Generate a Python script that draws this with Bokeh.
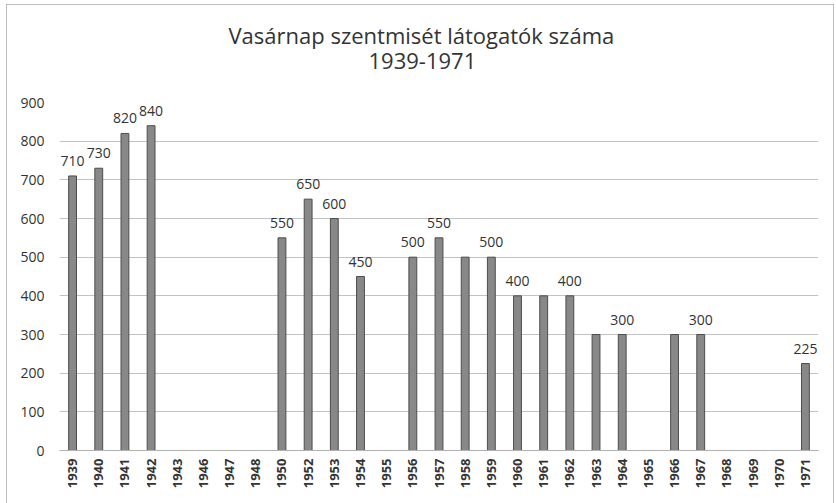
from bokeh.plotting import figure
from bokeh.models import ColumnDataSource, LabelSet, Title, FactorRange, Range1d, FixedTicker
from bokeh.embed import file_html
from bokeh.resources import INLINE
from bokeh.core.properties import value
import math

years = ["1939", "1940", "1941", "1942", "1943", "1946", "1947", "1948", "1950",
         "1952", "1953", "1954", "1955", "1956", "1957", "1958", "1959", "1960",
         "1961", "1962", "1963", "1964", "1965", "1966", "1967", "1968", "1969",
         "1970", "1971"]
counts = [710, 730, 820, 840, 0, 0, 0, 0, 550,
          650, 600, 450, 0, 500, 550, 500, 500, 400,
          400, 400, 300, 300, 0, 300, 300, 0, 0,
          0, 225]
shown = ["710", "730", "820", "840", "", "", "", "", "550",
         "650", "600", "450", "", "500", "550", "", "500", "400",
         "", "400", "", "300", "", "", "300", "", "",
         "", "225"]
y_ticks = [0, 100, 200, 300, 400, 500, 600, 700, 800, 900]
title_lines = ["Vasárnap szentmisét látogatók száma", "1939-1971"]

FONT = "Open Sans"
LINE = "linear-gradient(#bdbdbd,#bdbdbd)"

src = ColumnDataSource(dict(x=years, y=counts, lab=shown))

p = figure(x_range=FactorRange(*years, range_padding=0), y_range=Range1d(0, 900),
           width=836, height=503, output_backend="svg", toolbar_location=None,
           min_border_left=59, min_border_right=18, min_border_top=102, min_border_bottom=53)
p.outline_line_color = None
p.background_fill_color = "white"
p.border_fill_color = None
p.styles = {"background": f"{LINE} 6px 4px / 1px 600px no-repeat, "
                          f"{LINE} 6px 4px / 828px 1px no-repeat, "
                          f"{LINE} 833px 4px / 1px 600px no-repeat, white"}

p.vbar(x="x", top="y", width=0.3, source=src, fill_color="#888888",
       line_color="#4d4d4d", line_width=1)

p.add_layout(LabelSet(x="x", y="y", text="lab", source=src, y_offset=10,
                      text_align="center", text_baseline="bottom",
                      text_font=value(FONT), text_font_size="14px", text_color="#333333"))

p.xgrid.grid_line_color = None
p.ygrid.grid_line_color = "#c2c2c2"
p.ygrid.grid_line_width = 1

p.yaxis.ticker = FixedTicker(ticks=y_ticks)
p.yaxis.axis_line_color = None
p.yaxis.major_tick_line_color = None
p.yaxis.minor_tick_line_color = None
p.yaxis.major_tick_out = 0
p.yaxis.major_tick_in = 0
p.yaxis.major_label_standoff = 15
p.yaxis.major_label_text_font = FONT
p.yaxis.major_label_text_font_size = "14px"
p.yaxis.major_label_text_color = "#333333"

p.xaxis.axis_line_color = "#b0b0b0"
p.xaxis.major_tick_line_color = None
p.xaxis.minor_tick_line_color = None
p.xaxis.major_tick_out = 0
p.xaxis.major_tick_in = 0
p.xaxis.major_label_orientation = math.pi / 2
p.xaxis.major_label_standoff = 8
p.xaxis.major_label_text_font = FONT
p.xaxis.major_label_text_font_size = "13px"
p.xaxis.major_label_text_font_style = "bold"
p.xaxis.major_label_text_color = "#333333"

# spacer between the frame and the two title lines
p.add_layout(Title(text=" ", text_font_size="1px", standoff=31), "above")
p.add_layout(Title(text=title_lines[1], align="left", offset=309, standoff=0,
                   text_font=FONT, text_font_size="22px", text_font_style="normal",
                   text_color="#333333"), "above")
p.add_layout(Title(text=title_lines[0], align="left", offset=169, standoff=2,
                   text_font=FONT, text_font_size="22px", text_font_style="normal",
                   text_color="#333333"), "above")

open("out.html", "w").write(file_html(p, INLINE))
